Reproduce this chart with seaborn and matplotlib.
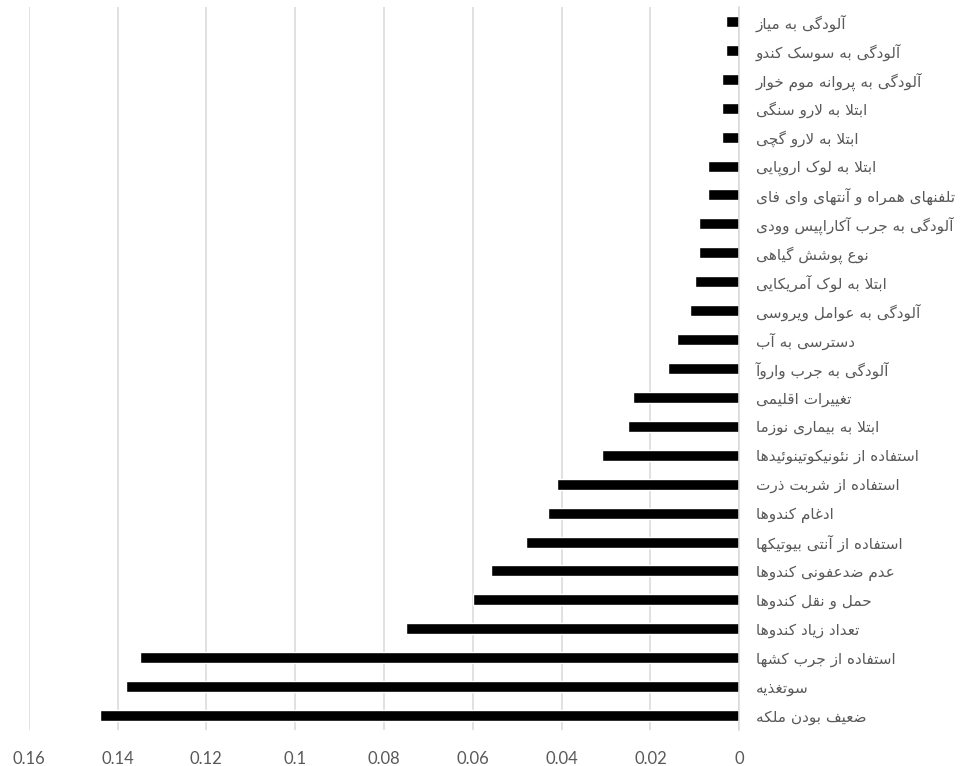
import matplotlib
matplotlib.use('Agg')

import matplotlib.pyplot as plt
import numpy as np
import pandas as pd
import seaborn as sns
from matplotlib.ticker import FuncFormatter

# labels (top to bottom, as they appear)
factors = [
    'آلودگی به میاز',
    'آلودگی به سوسک کندو',
    'آلودگی به پروانه موم خوار',
    'ابتلا به لارو سنگی',
    'ابتلا به لارو گچی',
    'ابتلا به لوک اروپایی',
    'تلفنهای همراه و آنتهای وای فای',
    'آلودگی به جرب آکاراپیس وودی',
    'نوع پوشش گیاهی',
    'ابتلا به لوک آمریکایی',
    'آلودگی به عوامل ویروسی',
    'دسترسی به آب',
    'آلودگی به جرب واروآ',
    'تغییرات اقلیمی',
    'ابتلا به بیماری نوزما',
    'استفاده از نئونیکوتینوئیدها',
    'استفاده از شربت ذرت',
    'ادغام کندوها',
    'استفاده از آنتی بیوتیکها',
    'عدم ضدعفونی کندوها',
    'حمل و نقل کندوها',
    'تعداد زیاد کندوها',
    'استفاده از جرب کشها',
    'سوتغذیه',
    'ضعیف بودن ملکه',
]
weights = [0.003, 0.003, 0.004, 0.004, 0.004, 0.007, 0.007, 0.009, 0.009, 0.010,
           0.011, 0.014, 0.016, 0.024, 0.025, 0.031, 0.041, 0.043, 0.048, 0.056,
           0.060, 0.075, 0.135, 0.138, 0.144]
x_ticks = [0, 0.02, 0.04, 0.06, 0.08, 0.1, 0.12, 0.14, 0.16]

# matplotlib has no arabic shaping -> map letters to presentation forms and reverse
FORMS = {
    'ا': (0xFE8D, 0xFE8E), 'آ': (0xFE81, 0xFE82), 'د': (0xFEA9, 0xFEAA),
    'ذ': (0xFEAB, 0xFEAC), 'ر': (0xFEAD, 0xFEAE), 'ز': (0xFEAF, 0xFEB0),
    'ژ': (0xFB8A, 0xFB8B), 'و': (0xFEED, 0xFEEE),
    'ب': (0xFE8F, 0xFE90, 0xFE91, 0xFE92), 'پ': (0xFB56, 0xFB57, 0xFB58, 0xFB59),
    'ت': (0xFE95, 0xFE96, 0xFE97, 0xFE98), 'ث': (0xFE99, 0xFE9A, 0xFE9B, 0xFE9C),
    'ج': (0xFE9D, 0xFE9E, 0xFE9F, 0xFEA0), 'چ': (0xFB7A, 0xFB7B, 0xFB7C, 0xFB7D),
    'ح': (0xFEA1, 0xFEA2, 0xFEA3, 0xFEA4), 'خ': (0xFEA5, 0xFEA6, 0xFEA7, 0xFEA8),
    'س': (0xFEB1, 0xFEB2, 0xFEB3, 0xFEB4), 'ش': (0xFEB5, 0xFEB6, 0xFEB7, 0xFEB8),
    'ص': (0xFEB9, 0xFEBA, 0xFEBB, 0xFEBC), 'ض': (0xFEBD, 0xFEBE, 0xFEBF, 0xFEC0),
    'ط': (0xFEC1, 0xFEC2, 0xFEC3, 0xFEC4), 'ظ': (0xFEC5, 0xFEC6, 0xFEC7, 0xFEC8),
    'ع': (0xFEC9, 0xFECA, 0xFECB, 0xFECC), 'غ': (0xFECD, 0xFECE, 0xFECF, 0xFED0),
    'ف': (0xFED1, 0xFED2, 0xFED3, 0xFED4), 'ق': (0xFED5, 0xFED6, 0xFED7, 0xFED8),
    'ک': (0xFB8E, 0xFB8F, 0xFB90, 0xFB91), 'گ': (0xFB92, 0xFB93, 0xFB94, 0xFB95),
    'ل': (0xFEDD, 0xFEDE, 0xFEDF, 0xFEE0), 'م': (0xFEE1, 0xFEE2, 0xFEE3, 0xFEE4),
    'ن': (0xFEE5, 0xFEE6, 0xFEE7, 0xFEE8), 'ه': (0xFEE9, 0xFEEA, 0xFEEB, 0xFEEC),
    'ی': (0xFBFC, 0xFBFD, 0xFBFE, 0xFBFF), 'ئ': (0xFE89, 0xFE8A, 0xFE8B, 0xFE8C),
}
LAM_ALEF = {'ا': (0xFEFB, 0xFEFC), 'آ': (0xFEF5, 0xFEF6)}


def shape(text):
    toks = []
    i = 0
    while i < len(text):
        c = text[i]
        if c == 'ل' and i + 1 < len(text) and text[i + 1] in LAM_ALEF:
            toks.append(LAM_ALEF[text[i + 1]])
            i += 2
            continue
        toks.append(FORMS.get(c, c))
        i += 1
    out = []
    for k, t in enumerate(toks):
        if isinstance(t, str):
            out.append(t)
            continue
        prev = k > 0 and isinstance(toks[k - 1], tuple) and len(toks[k - 1]) == 4
        nxt = len(t) == 4 and k + 1 < len(toks) and isinstance(toks[k + 1], tuple)
        if prev and nxt:
            cp = t[3]
        elif nxt:
            cp = t[2]
        elif prev:
            cp = t[1]
        else:
            cp = t[0]
        out.append(chr(cp))
    return ''.join(reversed(out))


sns.set_style("white")
plt.rcParams['font.family'] = ['DejaVu Sans']

df = pd.DataFrame({'factor': [shape(f) for f in factors], 'weight': weights})

fig = plt.figure(figsize=(9.6, 7.66), dpi=100)
ax = fig.add_axes([0.0299, 0.047, 0.7402, 0.9439])

sns.barplot(data=df, x='weight', y='factor', orient='h', color='black',
            width=0.38, saturation=1, ax=ax)

ax.set_xlim(0.16, 0)
ax.set_xticks(x_ticks)
ax.xaxis.set_major_formatter(FuncFormatter(lambda v, _: f'{v:g}'))
ax.grid(axis='x', color='#d9d9d9', linewidth=1.1)
ax.set_axisbelow(True)
for s in ['top', 'left', 'bottom']:
    ax.spines[s].set_visible(False)
ax.spines['right'].set_color('#d9d9d9')
ax.spines['right'].set_linewidth(1.1)

ax.yaxis.tick_right()
ax.tick_params(axis='y', length=0, pad=12, labelsize=11, labelcolor='#595959')
ax.tick_params(axis='x', length=0, pad=15, labelsize=12, labelcolor='#595959')
for lab in ax.get_xticklabels():
    lab.set_family(['Lato', 'DejaVu Sans'])
ax.set_xlabel('')
ax.set_ylabel('')

plt.savefig('out.png', dpi=100)
